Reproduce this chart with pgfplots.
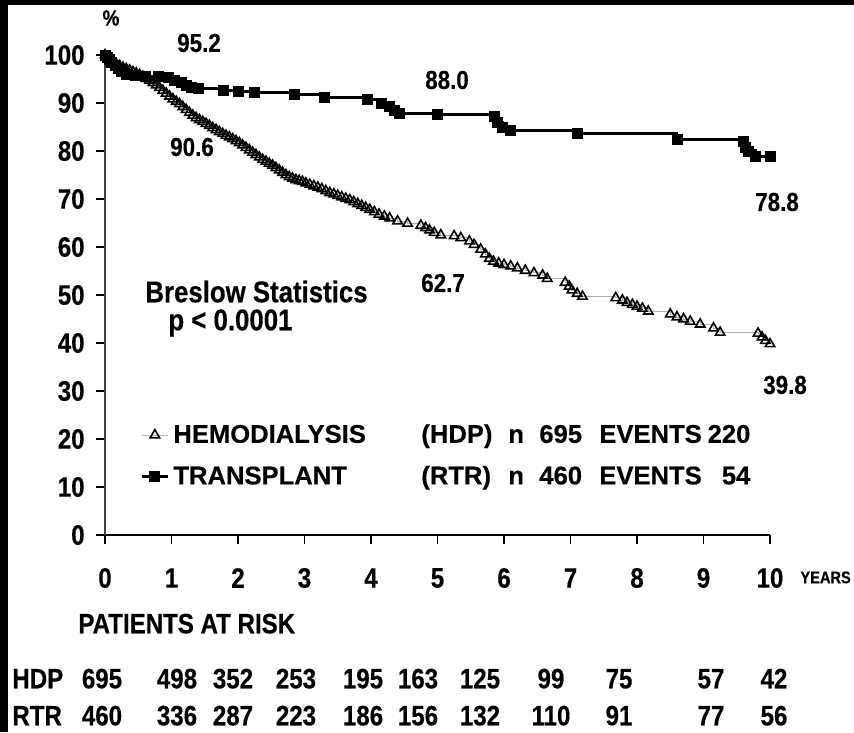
\documentclass[border=0pt]{standalone}
\usepackage{pgfplots}
\pgfplotsset{compat=1.18}
\usepackage{fontspec}
\setmainfont{Liberation Sans}[FakeStretch=0.86, BoldFeatures={FakeBold=0.4}]
\newfontfamily\legfont{Liberation Sans}[BoldFeatures={FakeBold=0.4}]
\newcommand\tf{\fontsize{14}{16}\selectfont\bfseries}
\newcommand\af{\fontsize{13}{15}\selectfont\bfseries}
\newcommand\lf{\legfont\fontsize{12.8}{14}\selectfont\bfseries}
% one legend row: name, group, n, events
\newcommand\legrow[4]{\makebox[124pt][l]{#1}\makebox[43.5pt][l]{#2}\makebox[15.5pt][l]{n}\makebox[30pt][l]{#3}\makebox[55pt][l]{EVENTS}\makebox[20.5pt][r]{#4}}

\begin{document}
\begin{tikzpicture}[x=0.5pt,y=0.5pt]
\useasboundingbox (0,0) rectangle (854,-732);
\fill[black] (0,0) rectangle (854,-732);
\fill[white] (8,-5) rectangle (854,-732);

\begin{axis}[
    at={(52.5pt,-267.5pt)}, anchor=south west,
    scale only axis, width=332.5pt, height=240pt,
    xmin=0, xmax=10, ymin=0, ymax=100,
    axis lines*=left,
    clip=false,
    xtick={0,...,10}, ytick={0,10,...,100},
    tick align=outside,
    major tick length=4.5pt,
    every tick/.style={black, line width=0.8pt},
    x axis line style={line width=1.2pt},
    y axis line style={line width=0.7pt, black!75},
    /pgf/number format/assume math mode=true,
    ticklabel style={font=\tf, inner sep=0pt},
    xticklabel style={anchor=center, yshift=-17pt},
    yticklabel style={anchor=east, xshift=-5.5pt},
    legend style={draw=none, fill=none, inner sep=0pt,
        at={(axis description cs:0.0526,0.165)}, anchor=west,
        font=\lf, row sep=6pt,
        /tikz/every even column/.append style={column sep=4pt}},
    legend cell align=left,
    legend image code/.code={
        \draw[#1, mark repeat=2, mark phase=2]
            plot coordinates {(0pt,0pt) (6.5pt,0pt) (13pt,0pt)};},
]

% hemodialysis (HDP)
\addplot[const plot, gray!60, line width=0.5pt,
    mark=triangle, mark size=2.7pt,
    mark options={black, line width=0.8pt}] coordinates {
    (0.00,100.0) (0.04,99.5) (0.08,99.0) (0.12,98.6) (0.17,98.1)
    (0.22,97.7) (0.27,97.4) (0.32,97.1) (0.37,96.8) (0.42,96.5)
    (0.47,96.2) (0.52,95.9) (0.57,95.5) (0.62,95.1) (0.67,94.7)
    (0.72,94.2) (0.77,93.7) (0.82,93.2) (0.87,92.6) (0.92,92.0)
    (0.97,91.4) (1.02,90.8) (1.07,90.3) (1.12,89.8) (1.17,89.2)
    (1.22,88.6) (1.27,88.0) (1.32,87.4) (1.37,86.9) (1.42,86.5)
    (1.47,86.1) (1.52,85.7) (1.57,85.3) (1.62,84.8) (1.67,84.4)
    (1.72,84.0) (1.77,83.6) (1.82,83.2) (1.87,82.9) (1.92,82.5)
    (1.97,82.1) (2.02,81.7) (2.07,81.2) (2.12,80.7) (2.17,80.2)
    (2.22,79.7) (2.27,79.2) (2.32,78.7) (2.37,78.2) (2.42,77.8)
    (2.47,77.4) (2.52,77.0) (2.57,76.5) (2.62,76.0) (2.67,75.5)
    (2.72,75.0) (2.77,74.6) (2.82,74.3) (2.87,74.0) (2.92,73.8)
    (2.97,73.6) (3.02,73.3) (3.08,73.0) (3.14,72.7) (3.20,72.4)
    (3.26,72.1) (3.32,71.7) (3.38,71.3) (3.44,71.0) (3.50,70.7)
    (3.56,70.4) (3.62,70.1) (3.68,69.8) (3.74,69.4) (3.80,69.0)
    (3.86,68.6) (3.92,68.2) (3.98,67.8) (4.05,67.3) (4.12,66.8)
    (4.20,66.4) (4.28,66.0) (4.40,65.4) (4.55,64.9) (4.75,64.5)
    (4.82,64.0) (4.88,63.5) (4.95,63.0) (5.05,62.5) (5.25,62.3)
    (5.35,61.9) (5.48,61.2) (5.55,60.5) (5.65,59.5) (5.72,58.5)
    (5.78,57.6) (5.84,57.0) (5.92,56.6) (6.00,56.3) (6.10,56.0)
    (6.20,55.6) (6.32,55.1) (6.45,54.6) (6.58,54.1) (6.65,53.4)
    (6.92,52.6) (6.98,51.8) (7.02,51.0) (7.10,50.3) (7.18,49.7)
    (7.68,49.4) (7.78,48.9) (7.85,48.4) (7.93,48.0) (8.00,47.6)
    (8.08,47.2) (8.17,46.6) (8.50,46.0) (8.60,45.4) (8.70,45.0)
    (8.80,44.5) (8.95,43.9) (9.15,43.1) (9.25,42.2) (9.82,42.0)
    (9.88,41.2) (9.93,40.5) (10.0,39.8)
};
\addlegendentry{\legrow{HEMODIALYSIS}{(HDP)}{695}{220}}

% transplant (RTR)
\addplot[const plot, black, line width=1.5pt,
    mark=square*, mark size=2.5pt, mark options={line width=0.4pt}] coordinates {
    (0.00,100.0) (0.03,99.5) (0.07,99.0) (0.10,98.4) (0.15,97.8)
    (0.20,97.2) (0.25,96.6) (0.32,96.0) (0.45,95.7) (0.60,95.6)
    (0.80,95.5) (0.95,95.3) (1.05,94.8) (1.15,94.2) (1.22,93.7)
    (1.30,93.2) (1.40,93.0) (1.78,92.7) (2.00,92.4) (2.25,92.2)
    (2.85,91.7) (3.30,91.2) (3.95,90.8) (4.15,90.0) (4.27,89.2)
    (4.35,88.5) (4.42,87.8) (5.00,87.6) (5.85,87.3) (5.90,86.0)
    (5.97,85.0) (6.10,84.3) (7.10,83.6) (8.60,82.4) (9.60,81.9)
    (9.63,80.8) (9.68,80.0) (9.78,78.8) (10.0,78.8)
};
\addlegendentry{\legrow{TRANSPLANT}{(RTR)}{460}{54}}
\end{axis}

% annotations
\node[font=\af] at (199,-43) {95.2};
\node[font=\af] at (192,-147) {90.6};
\node[font=\af] at (447,-80) {88.0};
\node[font=\af] at (777,-202) {78.8};
\node[font=\af] at (443,-283) {62.7};
\node[font=\af] at (785,-385) {39.8};
\node[font=\fontsize{15}{17}\selectfont\bfseries, anchor=mid west, inner sep=0pt] at (145,-297) {Breslow Statistics};
\node[font=\fontsize{15}{17}\selectfont\bfseries, anchor=mid west, inner sep=0pt] at (168,-325) {p < 0.0001};
\node[font=\fontsize{11}{13}\selectfont\bfseries] at (111,-18) {\%};
\node[font=\fontsize{8.5}{10}\selectfont\bfseries, anchor=mid west, inner sep=0pt] at (800,-578) {YEARS};

% patients at risk
\node[font=\tf, anchor=mid west, inner sep=0pt] at (78,-628) {PATIENTS AT RISK};
\node[font=\tf, anchor=mid west, inner sep=0pt] at (12,-683) {HDP};
\node[font=\tf, anchor=mid west, inner sep=0pt] at (12,-720) {RTR};
\foreach \px/\h/\r in {102/695/460, 177/498/336, 233/352/287, 296/253/223,
    363/195/186, 418/163/156, 480/125/132, 551/99/110, 619/75/91,
    711/57/77, 774/42/56} {
  \node[font=\tf, anchor=mid, inner sep=0pt] at (\px,-683) {\h};
  \node[font=\tf, anchor=mid, inner sep=0pt] at (\px,-720) {\r};
}
\end{tikzpicture}
\end{document}
